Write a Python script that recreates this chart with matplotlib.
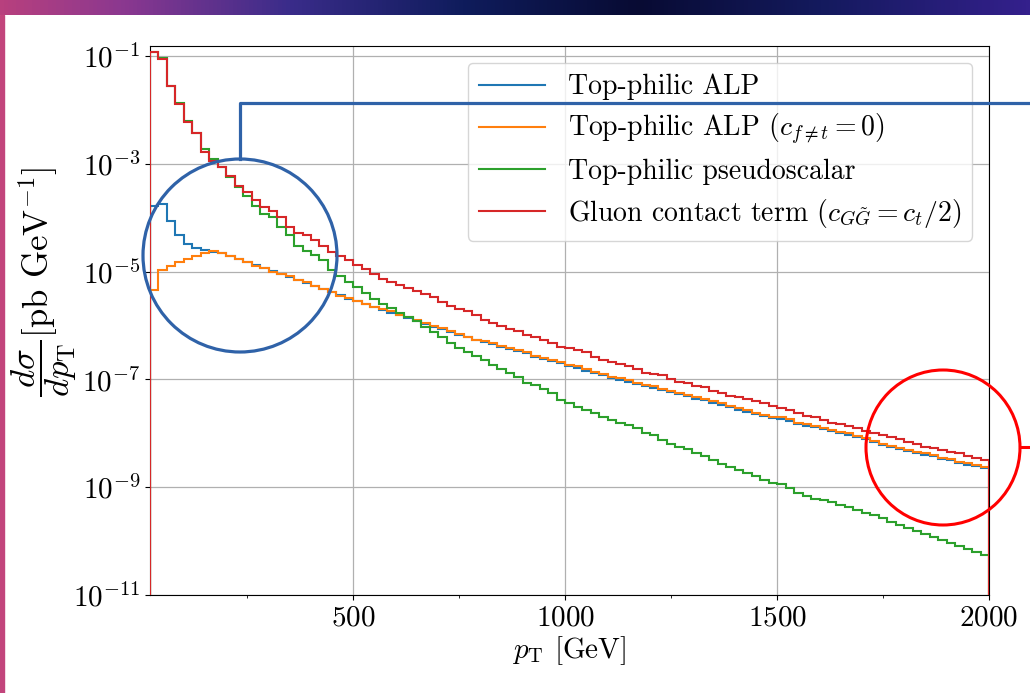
"""Distribucion en p_T de las senales ALP / pseudoescalar / gluon."""

import matplotlib
matplotlib.use('Agg')
import matplotlib.pyplot as plt
import numpy as np
from matplotlib import ticker
from matplotlib.colors import LinearSegmentedColormap
from matplotlib.patches import Ellipse, Rectangle


# bordes de los bins en GeV (20 GeV de ancho)
BIN_EDGES = np.arange(20, 2001, 20)

# log10 de dsigma/dpT [pb/GeV], un valor por bin
LOG_ALP = [
    -3.78, -3.74, -4.07, -4.32, -4.48, -4.57, -4.60, -4.63, -4.66, -4.71,
    -4.77, -4.82, -4.88, -4.94, -4.99, -5.04, -5.10, -5.15, -5.21, -5.26,
    -5.33, -5.38, -5.44, -5.50, -5.55, -5.60, -5.66, -5.71, -5.76, -5.81,
    -5.86, -5.92, -5.97, -6.02, -6.07, -6.12, -6.18, -6.22, -6.27, -6.30,
    -6.35, -6.39, -6.44, -6.47, -6.51, -6.58, -6.63, -6.66, -6.70, -6.75,
    -6.78, -6.84, -6.88, -6.92, -6.97, -7.01, -7.04, -7.08, -7.13, -7.16,
    -7.19, -7.23, -7.28, -7.31, -7.36, -7.39, -7.43, -7.47, -7.51, -7.56,
    -7.60, -7.64, -7.68, -7.72, -7.73, -7.77, -7.82, -7.86, -7.89, -7.92,
    -7.96, -8.00, -8.03, -8.07, -8.11, -8.16, -8.21, -8.26, -8.30, -8.33,
    -8.36, -8.40, -8.43, -8.47, -8.50, -8.55, -8.58, -8.61, -8.65,
]
LOG_ALP_CF0 = [
    -5.35, -4.97, -4.89, -4.82, -4.77, -4.72, -4.66, -4.61, -4.65, -4.71,
    -4.77, -4.83, -4.89, -4.94, -5.00, -5.04, -5.09, -5.15, -5.20, -5.26,
    -5.32, -5.38, -5.45, -5.49, -5.54, -5.60, -5.66, -5.70, -5.74, -5.81,
    -5.85, -5.90, -5.96, -6.01, -6.05, -6.11, -6.16, -6.21, -6.26, -6.28,
    -6.33, -6.38, -6.42, -6.45, -6.49, -6.57, -6.61, -6.64, -6.67, -6.73,
    -6.76, -6.81, -6.86, -6.90, -6.95, -6.98, -7.02, -7.06, -7.10, -7.13,
    -7.17, -7.21, -7.26, -7.29, -7.33, -7.37, -7.41, -7.44, -7.49, -7.54,
    -7.57, -7.62, -7.66, -7.69, -7.70, -7.74, -7.80, -7.83, -7.86, -7.90,
    -7.94, -7.97, -8.00, -8.05, -8.09, -8.14, -8.19, -8.24, -8.28, -8.31,
    -8.34, -8.37, -8.40, -8.45, -8.48, -8.53, -8.56, -8.59, -8.63,
]
LOG_PSEUDO = [
    -0.93, -1.04, -1.56, -1.87, -2.20, -2.42, -2.72, -2.92, -3.06, -3.25,
    -3.44, -3.59, -3.78, -3.93, -3.99, -4.18, -4.33, -4.53, -4.62, -4.70,
    -4.78, -4.97, -5.08, -5.19, -5.28, -5.40, -5.51, -5.60, -5.68, -5.77,
    -5.84, -5.91, -6.02, -6.12, -6.21, -6.33, -6.42, -6.49, -6.57, -6.64,
    -6.73, -6.81, -6.89, -6.95, -7.06, -7.10, -7.17, -7.26, -7.38, -7.43,
    -7.51, -7.57, -7.63, -7.69, -7.75, -7.80, -7.85, -7.91, -8.00, -8.04,
    -8.12, -8.20, -8.25, -8.30, -8.37, -8.42, -8.50, -8.57, -8.62, -8.68,
    -8.73, -8.80, -8.87, -8.92, -8.94, -9.02, -9.10, -9.16, -9.21, -9.23,
    -9.28, -9.33, -9.37, -9.42, -9.47, -9.51, -9.58, -9.64, -9.70, -9.76,
    -9.81, -9.86, -9.92, -9.98, -10.03, -10.09, -10.15, -10.21, -10.26,
]
LOG_GLUON = [
    -0.93, -1.06, -1.56, -1.89, -2.22, -2.43, -2.78, -2.95, -3.06, -3.23,
    -3.41, -3.52, -3.67, -3.80, -3.88, -3.99, -4.17, -4.28, -4.33, -4.41,
    -4.52, -4.63, -4.72, -4.78, -4.88, -4.96, -5.04, -5.14, -5.19, -5.25,
    -5.31, -5.36, -5.42, -5.48, -5.56, -5.64, -5.70, -5.74, -5.81, -5.90,
    -5.95, -6.01, -6.07, -6.11, -6.18, -6.22, -6.26, -6.32, -6.39, -6.42,
    -6.45, -6.50, -6.59, -6.64, -6.67, -6.71, -6.75, -6.81, -6.88, -6.90,
    -6.92, -7.00, -7.04, -7.07, -7.12, -7.15, -7.21, -7.25, -7.31, -7.33,
    -7.37, -7.41, -7.44, -7.49, -7.54, -7.57, -7.62, -7.68, -7.70, -7.75,
    -7.80, -7.83, -7.86, -7.91, -7.95, -8.00, -8.03, -8.06, -8.11, -8.16,
    -8.20, -8.25, -8.28, -8.31, -8.34, -8.37, -8.42, -8.46, -8.50,
]

LABELS = [
    r'Top-philic ALP',
    r'Top-philic ALP ($c_{f\neq t} = 0$)',
    r'Top-philic pseudoscalar',
    r'Gluon contact term ($c_{G\tilde{G}} = c_t/2$)',
]
COLORES = ['tab:blue', 'tab:orange', 'tab:green', 'tab:red']

plt.rcParams['font.family'] = 'serif'
plt.rcParams['font.serif'] = ['cmr10']
plt.rcParams['mathtext.fontset'] = 'cm'
plt.rcParams['axes.formatter.use_mathtext'] = True
plt.rcParams['axes.unicode_minus'] = False


def _fondo_diapositiva(fig):
    """Franja degradada arriba y borde rosa a la izquierda (captura de slide)."""
    cmap = LinearSegmentedColormap.from_list('slide', [
        (0.0, '#b8407e'), (0.12, '#8a3890'), (0.28, '#3a2c8a'),
        (0.45, '#0f1c5c'), (0.62, '#080b33'), (0.8, '#141a5e'),
        (1.0, '#34208c'),
    ])
    ax_top = fig.add_axes([0, 1 - 15 / 693, 1, 15 / 693])
    ax_top.imshow(np.linspace(0, 1, 256)[None, :], cmap=cmap, aspect='auto')
    ax_top.axis('off')
    fig.patches.append(Rectangle((0, 0), 4 / 1030, 1 - 15 / 693,
                                 transform=fig.transFigure,
                                 color='#c2457c', zorder=0))


def _anotaciones(fig):
    """Circulos y lineas dibujados encima en la diapositiva (en pixeles)."""
    ov = fig.add_axes([0, 0, 1, 1], zorder=10)
    ov.set_xlim(0, 1030)
    ov.set_ylim(693, 0)
    ov.axis('off')
    ov.patch.set_visible(False)
    azul, rojo = '#2f62a8', '#ff0000'
    ov.add_patch(Ellipse((240, 255.5), 194, 193, fill=False,
                         edgecolor=azul, lw=2.3))
    ov.plot([240, 240, 1030], [159, 103, 103], color=azul, lw=2.3)
    ov.add_patch(Ellipse((943, 447.5), 154, 155, fill=False,
                         edgecolor=rojo, lw=2.2))
    ov.plot([1020, 1030], [447, 447], color=rojo, lw=2.2)


fig = plt.figure(figsize=(10.30, 6.93), dpi=100)
_fondo_diapositiva(fig)
ax = fig.add_axes([150 / 1030, 1 - 595 / 693, 839 / 1030, 549 / 693])

series = [LOG_ALP, LOG_ALP_CF0, LOG_PSEUDO, LOG_GLUON]
for log_vals, label, color in zip(series, LABELS, COLORES):
    ax.stairs(10.0 ** np.array(log_vals), BIN_EDGES, baseline=0,
              color=color, lw=1.5, label=label, zorder=3)

ax.set_yscale('log')
ax.set_xlim(BIN_EDGES[0], BIN_EDGES[-1])
ax.set_ylim(1e-11, 10 ** -0.815)
ax.yaxis.set_major_locator(ticker.FixedLocator([1e-11, 1e-9, 1e-7, 1e-5,
                                                1e-3, 1e-1]))
ax.yaxis.set_minor_locator(ticker.NullLocator())
ax.xaxis.set_major_locator(ticker.MultipleLocator(500))
ax.xaxis.set_minor_locator(ticker.MultipleLocator(250))
ax.grid(True, which='major', color='#b0b0b0', lw=0.9)
ax.tick_params(labelsize=21)

ax.set_xlabel(r'$p_{\mathrm{T}}$ [GeV]', fontsize=21, labelpad=2)
ax.set_ylabel(r'$\dfrac{d\sigma}{dp_{\mathrm{T}}}$[pb GeV$^{-1}$]',
              fontsize=25)
ax.yaxis.set_label_coords(-0.085, 0.57)

ax.legend(loc='upper right', fontsize=20, handlelength=2.4,
          labelspacing=0.42, borderaxespad=0.6)

_anotaciones(fig)

fig.savefig('out.png', dpi=100)
